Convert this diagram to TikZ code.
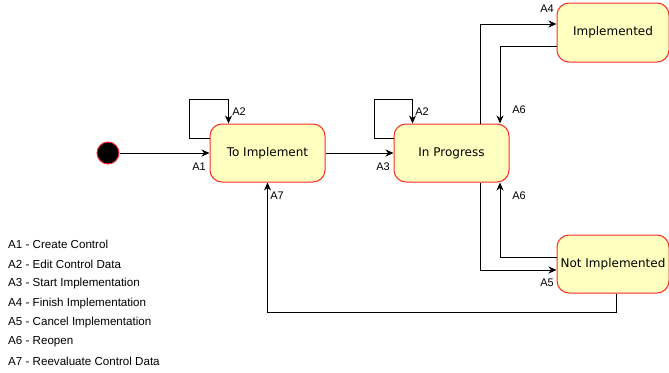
\documentclass[tikz,border=0pt]{standalone}
\usepackage{fontspec}
\setmainfont{Liberation Sans}
\newfontfamily\statefont{DejaVu Sans}
\usetikzlibrary{arrows.meta}
\definecolor{statefill}{HTML}{FFFFC0}
\definecolor{stateline}{HTML}{FF2A2A}
\tikzset{
  state/.style={draw=stateline, fill=statefill, line width=1pt, rounded corners=12pt,
    minimum width=115pt, minimum height=58pt, inner sep=0pt, font=\statefont\fontsize{12}{14}\selectfont},
  arr/.style={draw=black, line width=1pt, -{Stealth[length=8pt,width=7pt,inset=2.5pt]}},
  lbl/.style={font=\fontsize{11}{13}\selectfont, inner sep=0pt},
  legend/.style={font=\fontsize{11.6}{13}\selectfont, anchor=west, inner sep=0pt}
}
\begin{document}
\begin{tikzpicture}[x=1pt,y=-1pt]
\useasboundingbox (0,0) rectangle (669,372);

% states
\node[circle, fill=black, draw=stateline, line width=1pt, minimum size=22pt, inner sep=0pt] (init) at (108,153) {};
\node[state] (toimp) at (267.5,153) {To Implement};
\node[state] (inprog) at (451.5,153) {In Progress};
\node[state, minimum width=112pt, minimum height=59pt] (impl) at (613,32.5) {Implemented};
\node[state, minimum width=112pt] (notimpl) at (613,264) {Not Implemented};

% transitions
\draw[arr] (init) -- (toimp);
\draw[arr] ([yshift=15pt]toimp.west) -- ++(-20,0) -- ++(0,-39) -| ([xshift=-39pt]toimp.north);
\draw[arr] (toimp) -- (inprog);
\draw[arr] ([yshift=15pt]inprog.west) -- ++(-19,0) -- ++(0,-39) -| ([xshift=-39pt]inprog.north);
\draw[arr] ([xshift=29pt]inprog.north) |- ([yshift=8.5pt]impl.west);
\draw[arr] ([yshift=-14pt]impl.west) -| ([xshift=48.5pt]inprog.north);
\draw[arr] ([xshift=29pt]inprog.south) |- ([yshift=-6pt]notimpl.west);
\draw[arr] ([yshift=7pt]notimpl.west) -| ([xshift=48.5pt]inprog.south);
\draw[arr] ([xshift=3pt]notimpl.south) -- ++(0,19) -| (toimp.south);

% transition labels
\node[lbl] (la1) at (199,167) {A1};
\node[lbl] (la2a) at (239,112) {A2};
\node[lbl] (la3) at (383,167) {A3};
\node[lbl] (la2b) at (422,112) {A2};
\node[lbl] (la4) at (547,9) {A4};
\node[lbl] (la6a) at (519,110) {A6};
\node[lbl] (la6b) at (519,196) {A6};
\node[lbl] (la5) at (547,283) {A5};
\node[lbl] (la7) at (277,196) {A7};

% legend
\node[legend] (k1) at (8,244) {A1 - Create Control};
\node[legend] (k2) at (8,264) {A2 - Edit Control Data};
\node[legend] (k3) at (8,283) {A3 - Start Implementation};
\node[legend] (k4) at (8,303) {A4 - Finish Implementation};
\node[legend] (k5) at (8,322) {A5 - Cancel Implementation};
\node[legend] (k6) at (8,342) {A6 - Reopen};
\node[legend] (k7) at (8,361) {A7 - Reevaluate Control Data};
\end{tikzpicture}
\end{document}
